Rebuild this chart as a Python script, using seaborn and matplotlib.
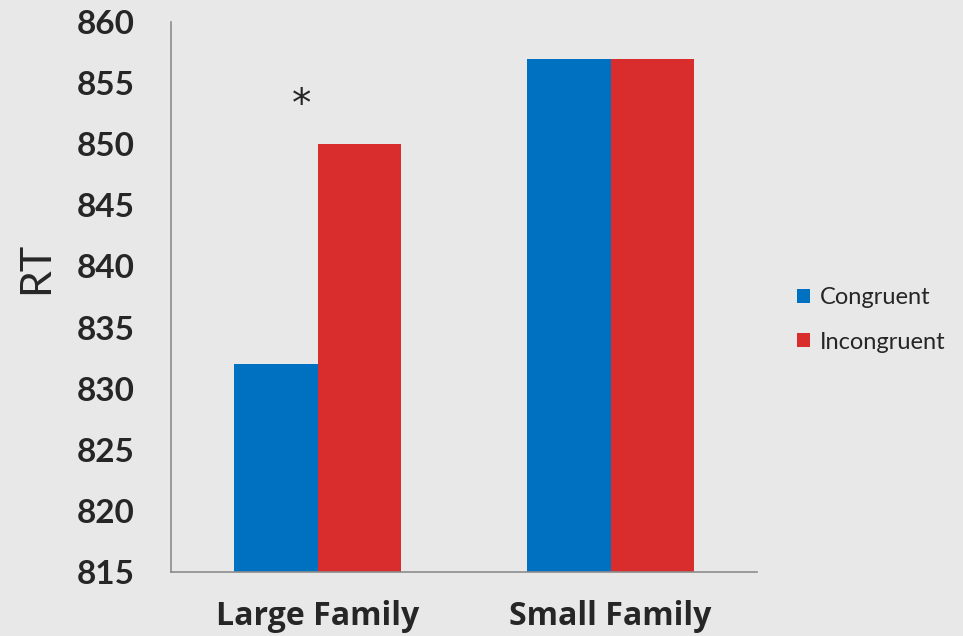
import matplotlib
matplotlib.use("Agg")
import matplotlib.pyplot as plt
import seaborn as sns
import pandas as pd
from matplotlib.patches import Patch

groups = ["Large Family", "Small Family"]
conditions = ["Congruent", "Incongruent"]
congruent_rt = [832, 857]
incongruent_rt = [850, 857]
yticks = [815, 820, 825, 830, 835, 840, 845, 850, 855, 860]

df = pd.DataFrame({
    "group": groups * 2,
    "condition": [conditions[0]] * 2 + [conditions[1]] * 2,
    "rt": congruent_rt + incongruent_rt,
})

bg = "#e8e8e8"
palette = {"Congruent": "#0070c0", "Incongruent": "#d92d2d"}

sns.set_theme(style="white")
plt.rcParams["font.family"] = ["Lato", "DejaVu Sans"]

fig = plt.figure(figsize=(9.63, 6.36), dpi=100, facecolor=bg)
ax = fig.add_axes([0.1776, 0.1006, 0.6085, 0.8648])
ax.set_facecolor(bg)

sns.barplot(data=df, x="group", y="rt", hue="condition", order=groups,
            hue_order=conditions, palette=palette, width=0.573, gap=0,
            saturation=1, linewidth=0, legend=False, ax=ax)

ax.set_ylim(815, 860)
ax.set_xlim(-0.5, 1.5)
ax.set_yticks(yticks)
ax.set_yticklabels([str(v) for v in yticks], fontsize=24, fontweight="bold")
ax.set_xticks([0, 1])
ax.set_xticklabels(groups, fontsize=23, fontweight="bold",
                   family=["Open Sans", "DejaVu Sans"])
ax.set_xticks([-0.5, 0.5, 1.5], minor=True)
ax.tick_params(axis="x", which="major", length=0, pad=20)
ax.tick_params(axis="x", which="minor", length=10, width=1.2, color="#8c8c8c")
ax.tick_params(axis="y", length=10, width=1.2, color="#8c8c8c", pad=16)
ax.set_xlabel("")
ax.set_ylabel("")
fig.text(36 / 963, 1 - 268 / 636, "RT", rotation=90, fontsize=31,
         ha="center", va="center")

for side in ["top", "right"]:
    ax.spines[side].set_visible(False)
for side in ["left", "bottom"]:
    ax.spines[side].set_color("#8c8c8c")
    ax.spines[side].set_linewidth(1.2)

# significance marker for the large-family contrast
ax.text(-0.055, 853.2, "*", fontsize=28, ha="center", va="center",
        family=["DejaVu Sans"])

handles = [Patch(facecolor=palette[c], edgecolor="none", label=c) for c in conditions]
fig.legend(handles=handles, loc="center left", bbox_to_anchor=(0.806, 0.497),
           frameon=False, fontsize=17, handlelength=0.55, handleheight=0.55,
           handletextpad=0.4, labelspacing=1.0)

fig.savefig("out.png", dpi=100, facecolor=bg)
